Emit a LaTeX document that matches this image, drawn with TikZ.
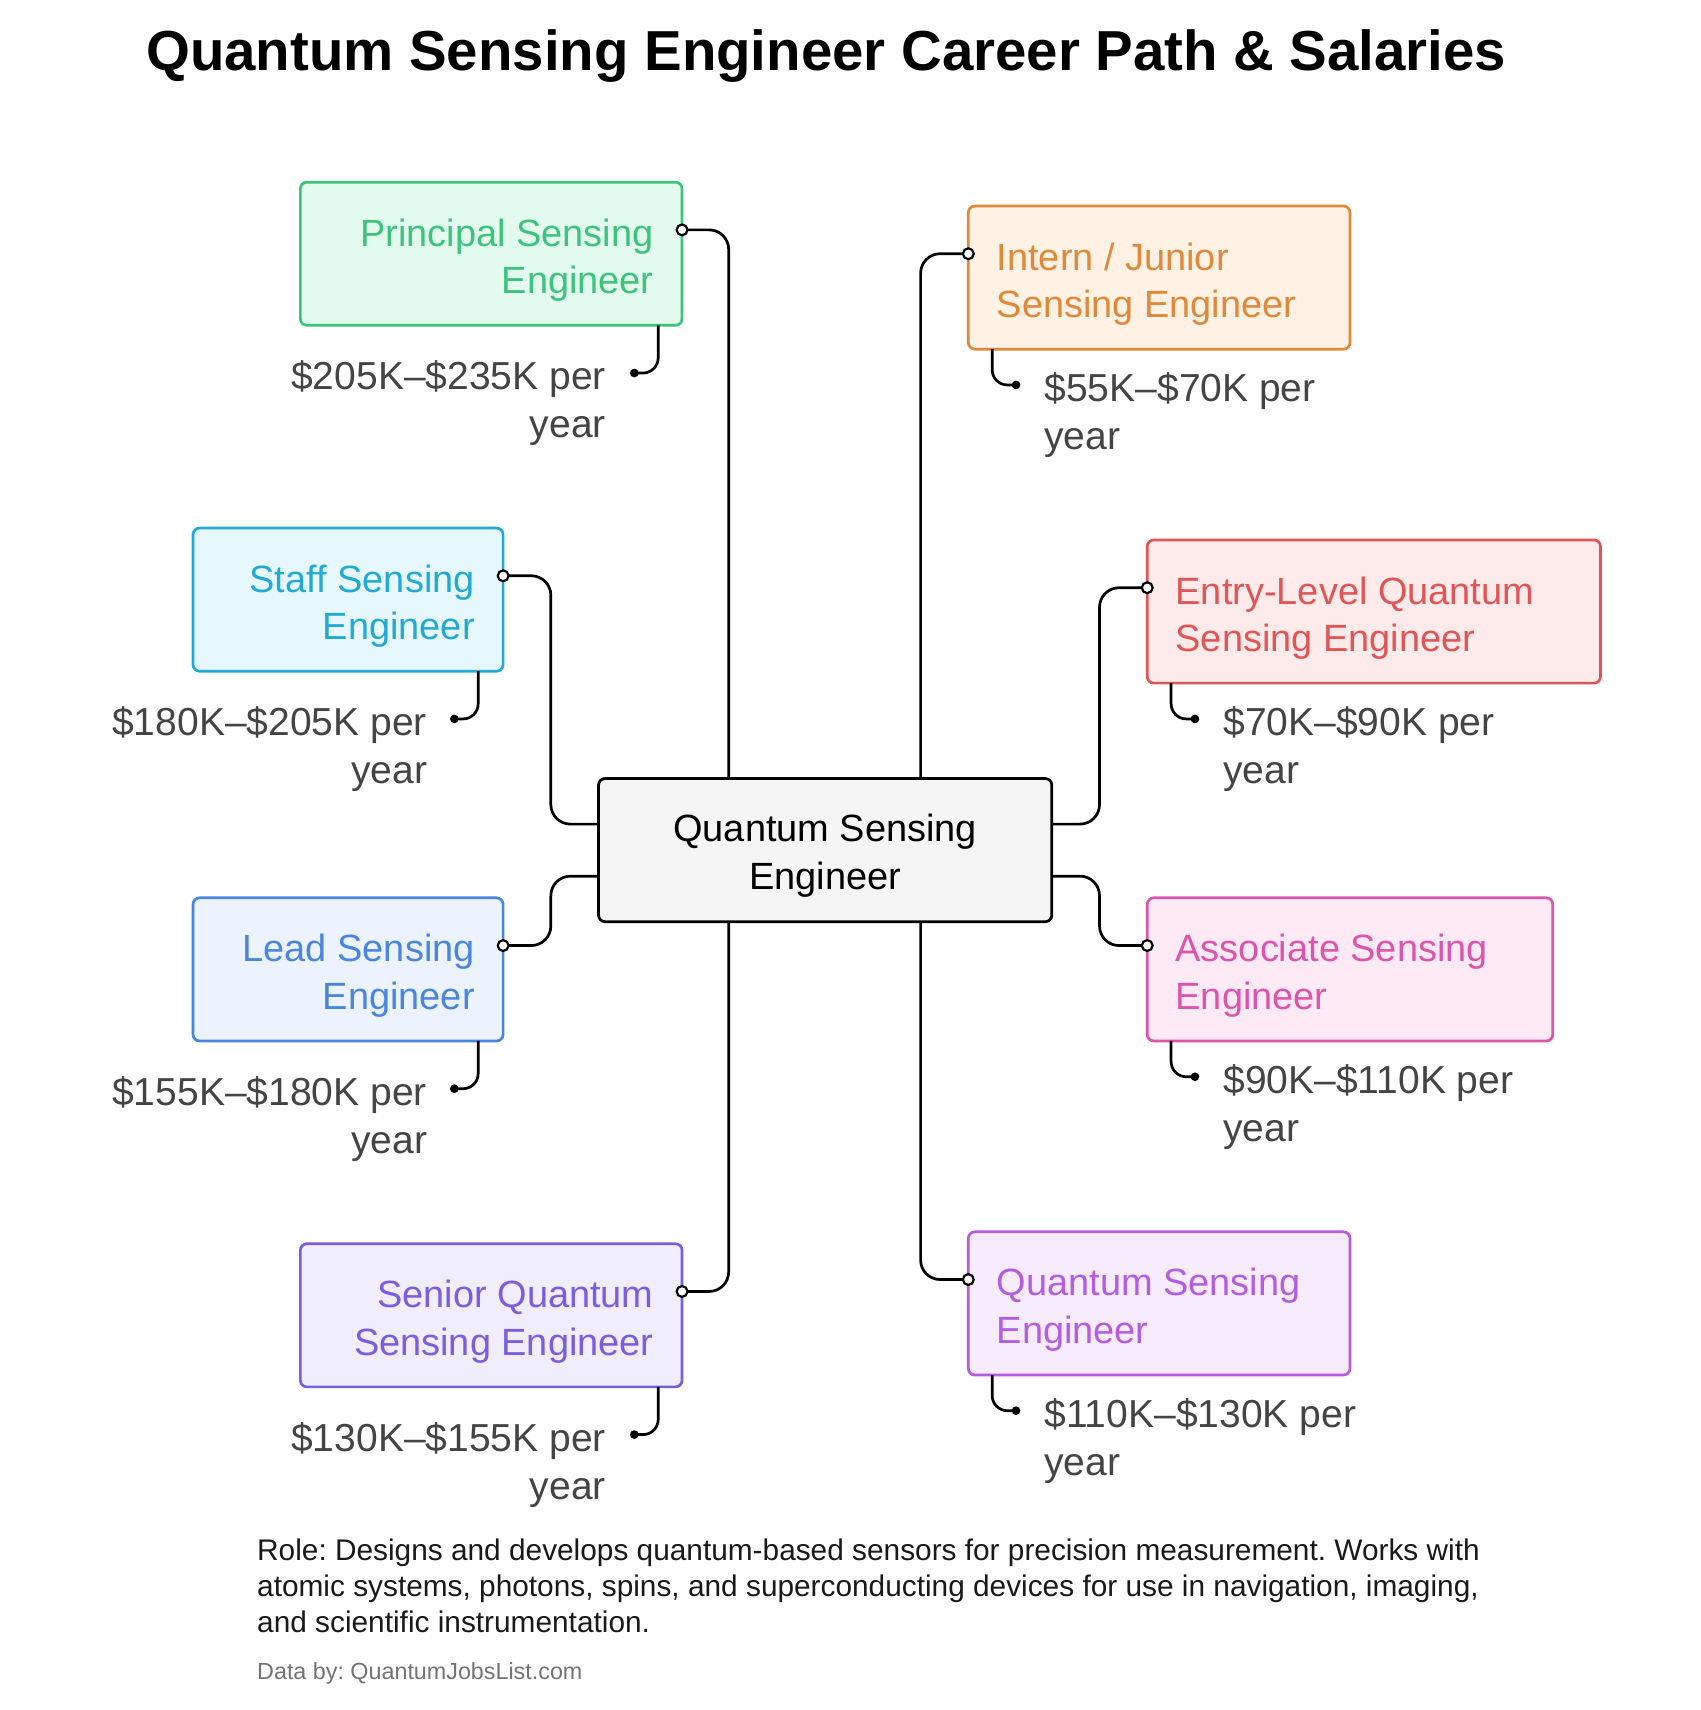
\documentclass[tikz,border=0pt]{standalone}
\usepackage{fontspec}
\setmainfont{Liberation Sans}
\frenchspacing
\begin{document}
\begin{tikzpicture}[x=1pt,y=-1pt,
  box/.style={draw, line width=2.5pt, rounded corners=6pt},
  btxt/.style={inner sep=0pt, font=\fontsize{35}{44}\selectfont},
  sal/.style={inner sep=0pt, text=salc, font=\fontsize{36}{44}\selectfont},
  con/.style={line width=2.5pt, rounded corners=18pt},
  odot/.style={circle, draw, line width=2pt, fill=white, inner sep=0pt, minimum size=10pt},
  fdot/.style={circle, fill=black, inner sep=0pt, minimum size=8pt}]
\definecolor{salc}{HTML}{444444}
\definecolor{cG}{HTML}{3CC47C}\definecolor{fG}{HTML}{E3FBEE}
\definecolor{cC}{HTML}{22AAD5}\definecolor{fC}{HTML}{E6F8FD}
\definecolor{cB}{HTML}{4A86E0}\definecolor{fB}{HTML}{EDF3FE}
\definecolor{cP}{HTML}{7B5EE0}\definecolor{fP}{HTML}{F0EDFD}
\definecolor{cO}{HTML}{E0893A}\definecolor{fO}{HTML}{FFF2E4}
\definecolor{cR}{HTML}{E05656}\definecolor{fR}{HTML}{FDEAEA}
\definecolor{cK}{HTML}{DD55AA}\definecolor{fK}{HTML}{FDEAF5}
\definecolor{cV}{HTML}{B65CE0}\definecolor{fV}{HTML}{F7ECFD}
\useasboundingbox (0,0) rectangle (1568,1577);
\node[inner sep=0pt, font=\fontsize{52}{60}\selectfont\bfseries] (title) at (762,52) {Quantum Sensing Engineer Career Path \& Salaries};
% center
\draw[box, fill=black!4] (552,718) rectangle (970,850);
\node[btxt, align=center] (c) at (761,789) {Quantum Sensing\\Engineer};
\coordinate (ct1) at (672,718);\coordinate (ct2) at (849,718);
\coordinate (cb1) at (672,850);\coordinate (cb2) at (849,850);
\coordinate (cl1) at (552,760);\coordinate (cl2) at (552,808);
\coordinate (cr1) at (970,760);\coordinate (cr2) at (970,808);
% left boxes
\draw[box, draw=cG, fill=fG] (277,168) rectangle (629,300);
\node[btxt, text=cG, align=right, anchor=east] (t1) at (603,240) {Principal Sensing\\Engineer};
\draw[box, draw=cC, fill=fC] (178,487) rectangle (464,619);
\node[btxt, text=cC, align=right, anchor=east] (t2) at (438,559) {Staff Sensing\\Engineer};
\draw[box, draw=cB, fill=fB] (178,828) rectangle (464,960);
\node[btxt, text=cB, align=right, anchor=east] (t3) at (438,900) {Lead Sensing\\Engineer};
\draw[box, draw=cP, fill=fP] (277,1147) rectangle (629,1279);
\node[btxt, text=cP, align=right, anchor=east] (t4) at (603,1219) {Senior Quantum\\Sensing Engineer};
% right boxes
\draw[box, draw=cO, fill=fO] (893,190) rectangle (1245,322);
\node[btxt, text=cO, align=left, anchor=west] (t5) at (919,262) {Intern / Junior\\Sensing Engineer};
\draw[box, draw=cR, fill=fR] (1058,498) rectangle (1476,630);
\node[btxt, text=cR, align=left, anchor=west] (t6) at (1084,570) {Entry-Level Quantum\\Sensing Engineer};
\draw[box, draw=cK, fill=fK] (1058,828) rectangle (1432,960);
\node[btxt, text=cK, align=left, anchor=west] (t7) at (1084,900) {Associate Sensing\\Engineer};
\draw[box, draw=cV, fill=fV] (893,1136) rectangle (1245,1268);
\node[btxt, text=cV, align=left, anchor=west] (t8) at (919,1208) {Quantum Sensing\\Engineer};
% main connectors
\coordinate (d1) at (629,212);\coordinate (d2) at (464,531);\coordinate (d3) at (464,872);\coordinate (d4) at (629,1191);
\coordinate (d5) at (893,234);\coordinate (d6) at (1058,542);\coordinate (d7) at (1058,872);\coordinate (d8) at (893,1180);
\draw[con] (d1) -| (ct1);
\draw[con] (d2) -| (508,760) -- (cl1);
\draw[con] (d3) -| (508,808) -- (cl2);
\draw[con] (d4) -| (cb1);
\draw[con] (d5) -| (ct2);
\draw[con] (d6) -| (1014,760) -- (cr1);
\draw[con] (d7) -| (1014,808) -- (cr2);
\draw[con] (d8) -| (cb2);
\foreach \d in {d1,d2,d3,d4,d5,d6,d7,d8} \node[odot] at (\d) {};
% salary connectors
\coordinate (s1) at (585,344);\coordinate (s2) at (419,663);\coordinate (s3) at (419,1004);\coordinate (s4) at (585,1323);
\coordinate (s5) at (937,355);\coordinate (s6) at (1102,663);\coordinate (s7) at (1102,993);\coordinate (s8) at (937,1301);
\draw[con, rounded corners=14pt] (607,300) |- (s1);
\draw[con, rounded corners=14pt] (441,619) |- (s2);
\draw[con, rounded corners=14pt] (441,960) |- (s3);
\draw[con, rounded corners=14pt] (607,1279) |- (s4);
\draw[con, rounded corners=14pt] (915,322) |- (s5);
\draw[con, rounded corners=14pt] (1080,630) |- (s6);
\draw[con, rounded corners=14pt] (1080,960) |- (s7);
\draw[con, rounded corners=14pt] (915,1268) |- (s8);
\foreach \s in {s1,s2,s3,s4,s5,s6,s7,s8} \node[fdot] at (\s) {};
% salary labels
\node[sal, align=right, anchor=east] (l1) at (559,372) {\$205K–\$235K per\\year};
\node[sal, align=right, anchor=east] (l2) at (394,691) {\$180K–\$205K per\\year};
\node[sal, align=right, anchor=east] (l3) at (394,1032) {\$155K–\$180K per\\year};
\node[sal, align=right, anchor=east] (l4) at (559,1351) {\$130K–\$155K per\\year};
\node[sal, align=left, anchor=west] (l5) at (963,383) {\$55K–\$70K per\\year};
\node[sal, align=left, anchor=west] (l6) at (1128,691) {\$70K–\$90K per\\year};
\node[sal, align=left, anchor=west] (l7) at (1128,1021) {\$90K–\$110K per\\year};
\node[sal, align=left, anchor=west] (l8) at (963,1329) {\$110K–\$130K per\\year};
% footer
\node[inner sep=0pt, anchor=north west, align=left, text=black!90, font=\fontsize{27.5}{33}\selectfont] (role) at (237,1419) {Role: Designs and develops quantum-based sensors for precision measurement. Works with\\atomic systems, photons, spins, and superconducting devices for use in navigation, imaging,\\and scientific instrumentation.};
\node[inner sep=0pt, anchor=west, text=black!55, font=\fontsize{21.5}{24}\selectfont] (data) at (237,1543) {Data by: QuantumJobsList.com};
\end{tikzpicture}
\end{document}
